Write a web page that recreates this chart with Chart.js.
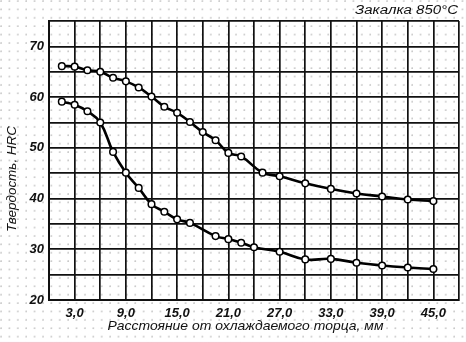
<!DOCTYPE html>
<html>
<head>
<meta charset="utf-8">
<script src="https://cdn.jsdelivr.net/npm/chart.js@4/dist/chart.umd.min.js"></script>
<style>
html,body{margin:0;padding:0;}
body{width:466px;height:342px;overflow:hidden;background-color:#fff;
background-image:radial-gradient(circle at 1px 1px,#c8c8c8 0.6px,rgba(255,255,255,0) 0.9px);
background-size:8.4px 8.4px;}
canvas{display:block;}
</style>
</head>
<body>
<canvas id="c" width="466" height="342"></canvas>
<script>
// ---- data ----
const chartTitle = "Закалка 850°С";
const xAxisTitle = "Расстояние от охлаждаемого торца, мм";
const yAxisTitle = "Твердость, HRC";

const upperX = [1.5,3,4.5,6,7.5,9,10.5,12,13.5,15,16.5,18,19.5,21,22.5,25,27,30,33,36,39,42,45];
const upperY = [66.1,66.0,65.3,65.0,63.8,63.1,61.9,60.1,58.1,56.9,55.1,53.1,51.5,49.0,48.3,45.1,44.4,43.0,41.9,41.0,40.4,39.8,39.5];

const lowerX = [1.5,3,4.5,6,7.5,9,10.5,12,13.5,15,16.5,19.5,21,22.5,24,27,30,33,36,39,42,45];
const lowerY = [59.1,58.5,57.2,55.0,49.2,45.1,42.1,38.9,37.4,35.9,35.2,32.6,32.0,31.3,30.4,29.5,28.0,28.1,27.35,26.8,26.4,26.1];

const xTickLabels = [3,9,15,21,27,33,39,45];
const yTickLabels = [20,30,40,50,60,70];

// ---- build ----
const toPts = (xs, ys) => xs.map((x, i) => ({x: x, y: ys[i]}));

function ds(xs, ys) {
  return {
    data: toPts(xs, ys),
    borderColor: '#000',
    borderWidth: 2.6,
    pointRadius: 3.3,
    pointBorderWidth: 1.5,
    pointBackgroundColor: '#fff',
    pointBorderColor: '#000',
    tension: 0.45,
    fill: false
  };
}

function drawFit(ctx, text, cx, cy, targetW, font, rot) {
  ctx.save();
  ctx.font = font;
  ctx.fillStyle = '#111';
  const w = ctx.measureText(text).width;
  ctx.translate(cx, cy);
  if (rot) ctx.rotate(rot);
  ctx.scale(targetW / w, 1);
  ctx.textAlign = 'center';
  ctx.textBaseline = 'middle';
  ctx.fillText(text, 0, 0);
  ctx.restore();
}

const textPlugin = {
  id: 'texts',
  afterDraw(chart) {
    const ctx = chart.ctx;
    drawFit(ctx, chartTitle, 406.5, 11, 103, 'italic 12px "Liberation Sans"');
    drawFit(ctx, xAxisTitle, 245.5, 326.5, 276, 'italic 13px "Liberation Sans"');
    drawFit(ctx, yAxisTitle, 12.5, 179, 106, 'italic 13px "Liberation Sans"', -Math.PI / 2);
  }
};

const tickFont = {family: '"Liberation Sans Narrow", "Liberation Sans"', size: 13, style: 'italic', weight: 'bold'};

new Chart(document.getElementById('c'), {
  type: 'line',
  data: { datasets: [ds(upperX, upperY), ds(lowerX, lowerY)] },
  options: {
    responsive: false,
    animation: false,
    events: [],
    layout: { padding: { left: 0, right: 7, top: 21, bottom: 0 } },
    plugins: { legend: { display: false }, tooltip: { enabled: false }, title: { display: false } },
    scales: {
      x: {
        type: 'linear',
        min: 0, max: 48,
        afterFit: s => { s.height = 42; },
        grid: { color: '#111', lineWidth: 1.7, drawTicks: false },
        border: { color: '#111', width: 2 },
        ticks: {
          stepSize: 3,
          padding: 6,
          color: '#111',
          font: tickFont,
          maxRotation: 0,
          autoSkip: false,
          callback: v => xTickLabels.includes(v) ? v.toFixed(1).replace('.', ',') : ''
        }
      },
      y: {
        min: 20, max: 75,
        afterFit: s => { s.width = 49; },
        grid: { color: '#111', lineWidth: 1.7, drawTicks: false },
        border: { color: '#111', width: 2 },
        ticks: {
          stepSize: 5,
          padding: 5,
          color: '#111',
          font: tickFont,
          autoSkip: false,
          callback: v => yTickLabels.includes(v) ? String(v) : ''
        }
      }
    }
  },
  plugins: [textPlugin]
});
</script>
</body>
</html>
